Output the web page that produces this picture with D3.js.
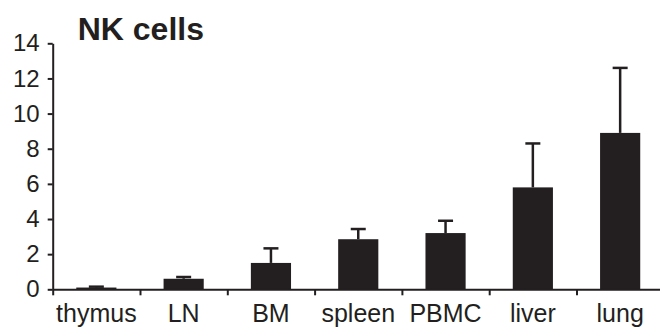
<!DOCTYPE html>
<meta charset="utf-8">
<html>
<head>
<script src="https://d3js.org/d3.v7.min.js"></script>
<style>
  body { margin: 0; background: #fff; }
  text { font-family: "Liberation Sans", Arial, sans-serif; fill: #231f20; }
</style>
</head>
<body>
<div id="my_dataviz"></div>
<script>
// data
const tissues = ["thymus", "LN", "BM", "spleen", "PBMC", "liver", "lung"];
const means   = [0.1, 0.6, 1.5, 2.85, 3.2, 5.8, 8.9];
const errors  = [0.05, 0.1, 0.83, 0.58, 0.7, 2.5, 3.7];
const yTicks  = [0, 2, 4, 6, 8, 10, 12, 14];

const ink = "#231f20";
const W = 660, H = 327;

const svg = d3.select("#my_dataviz")
  .append("svg")
    .attr("width", W)
    .attr("height", H);

// scales
const x = d3.scaleBand()
  .domain(tissues)
  .range([52.7, 663.8])
  .paddingInner(0.54)
  .paddingOuter(0.27);

const y = d3.scaleLinear()
  .domain([0, 14])
  .range([289.3, 43.3]);

// bars
svg.append("g")
  .selectAll("rect")
  .data(tissues)
  .join("rect")
    .attr("x", d => x(d))
    .attr("width", x.bandwidth())
    .attr("y", (d, i) => y(means[i]))
    .attr("height", (d, i) => y(0) - y(means[i]))
    .attr("fill", ink);

// error bars (upper only)
const capW = 15;
const eb = svg.append("g")
  .attr("stroke", ink)
  .attr("stroke-width", 2.5);
eb.selectAll("line.stem")
  .data(tissues)
  .join("line")
    .attr("class", "stem")
    .attr("x1", d => x(d) + x.bandwidth() / 2)
    .attr("x2", d => x(d) + x.bandwidth() / 2)
    .attr("y1", (d, i) => y(means[i]))
    .attr("y2", (d, i) => y(means[i] + errors[i]));
eb.selectAll("line.cap")
  .data(tissues)
  .join("line")
    .attr("class", "cap")
    .attr("x1", d => x(d) + x.bandwidth() / 2 - capW / 2)
    .attr("x2", d => x(d) + x.bandwidth() / 2 + capW / 2)
    .attr("y1", (d, i) => y(means[i] + errors[i]))
    .attr("y2", (d, i) => y(means[i] + errors[i]));

// y axis
const yAxis = svg.append("g")
  .attr("transform", "translate(52.7,0)")
  .call(d3.axisLeft(y).tickValues(yTicks).tickSize(5).tickSizeOuter(0).tickPadding(8));
yAxis.select(".domain").attr("stroke", ink).attr("stroke-width", 2);
yAxis.selectAll(".tick line").attr("stroke", ink).attr("stroke-width", 2);
yAxis.selectAll(".tick text")
  .attr("font-size", 24)
  .attr("font-family", "Liberation Sans, Arial, sans-serif")
  .attr("fill", ink);

// x axis: ticks between the categories
const xb = d3.scaleLinear().domain([0, tissues.length]).range(x.range());
const xAxis = svg.append("g")
  .attr("transform", `translate(0,${y(0)})`)
  .call(d3.axisBottom(xb).tickValues(d3.range(tissues.length + 1)).tickFormat("").tickSize(6).tickSizeOuter(0));
xAxis.select(".domain").attr("stroke", ink).attr("stroke-width", 2);
xAxis.selectAll(".tick line").attr("stroke", ink).attr("stroke-width", 2);

// x labels
const xLab = svg.append("g")
  .attr("transform", `translate(0,${y(0)})`)
  .call(d3.axisBottom(x).tickSize(0).tickPadding(15));
xLab.select(".domain").remove();
xLab.selectAll(".tick text")
  .attr("font-size", 25)
  .attr("font-family", "Liberation Sans, Arial, sans-serif")
  .attr("fill", ink);

// title
svg.append("text")
  .attr("x", 77.7)
  .attr("y", 40)
  .attr("font-size", 32)
  .attr("font-weight", "bold")
  .text("NK cells");
</script>
</body>
</html>
